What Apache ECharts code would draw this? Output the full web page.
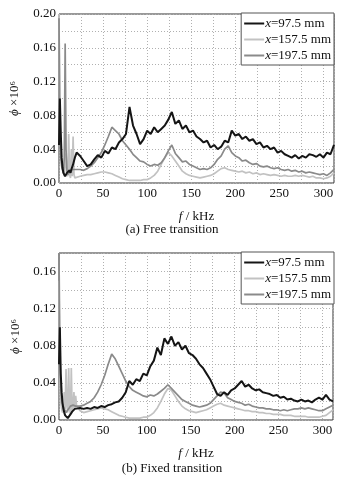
<!DOCTYPE html>
<html><head><meta charset="utf-8">
<script src="https://cdn.jsdelivr.net/npm/echarts@6/dist/echarts.min.js"></script>
<style>html,body{margin:0;padding:0;background:#fff}#c{width:359px;height:479px}</style>
</head><body><div id="c"></div>
<script>
// frequency (kHz)
var freq = [0,1,2,3,4,5,6,7,8,9,10,11,12,13,14,15,16,17,18,19,20,
24,28,32,36,40,44,48,52,56,60,64,68,72,76,80,84,88,92,96,100,
104,108,112,116,120,124,128,132,136,140,144,148,152,156,160,164,168,172,176,180,
184,188,192,196,200,204,208,212,216,220,224,228,232,236,240,244,248,252,256,260,
264,268,272,276,280,284,288,292,296,300,304,308,312];

var seriesNames = ['x=97.5 mm','x=157.5 mm','x=197.5 mm'];
var yTicksA = [0, 0.20];
var yTicksB = [0, 0.18];

// (a) Free transition
var freeX975 = [0.045,0.100,0.060,0.030,0.018,0.012,0.010,0.008,0.009,0.012,0.010,0.013,0.015,0.012,0.016,0.018,0.022,0.026,0.030,0.033,0.036,
0.032,0.026,0.020,0.022,0.028,0.033,0.030,0.038,0.035,0.042,
0.040,0.048,0.052,0.058,0.090,0.068,0.058,0.046,0.052,0.062,
0.058,0.066,0.060,0.064,0.068,0.075,0.084,0.070,0.074,0.064,
0.068,0.060,0.062,0.055,0.052,0.048,0.050,0.042,0.045,0.040,
0.043,0.050,0.048,0.062,0.056,0.058,0.052,0.055,0.050,0.052,
0.046,0.048,0.042,0.044,0.040,0.042,0.036,0.038,0.034,0.032,
0.030,0.033,0.029,0.032,0.030,0.034,0.033,0.031,0.034,0.030,
0.036,0.034,0.045];
var freeX1575 = [0.200,0.080,0.040,0.025,0.018,0.012,0.008,0.010,0.035,0.012,0.008,0.058,0.010,0.006,0.040,0.008,0.055,0.010,0.006,0.007,0.008,
0.008,0.009,0.010,0.010,0.011,0.012,0.013,0.013,0.012,0.011,
0.009,0.007,0.005,0.004,0.003,0.003,0.003,0.003,0.004,0.004,
0.006,0.009,0.014,0.022,0.030,0.036,0.032,0.026,0.020,0.014,
0.011,0.009,0.008,0.007,0.006,0.007,0.008,0.009,0.011,0.014,
0.017,0.018,0.016,0.015,0.014,0.013,0.014,0.012,0.013,0.011,
0.012,0.010,0.011,0.010,0.009,0.010,0.009,0.008,0.009,0.008,
0.008,0.009,0.008,0.009,0.008,0.007,0.008,0.006,0.006,0.005,
0.006,0.008,0.012];
var freeX1975 = [0.195,0.060,0.030,0.020,0.015,0.012,0.030,0.165,0.040,0.015,0.010,0.012,0.015,0.012,0.014,0.016,0.014,0.015,0.016,0.015,0.017,
0.016,0.015,0.017,0.020,0.024,0.030,0.036,0.045,0.055,0.066,
0.062,0.058,0.050,0.045,0.040,0.034,0.030,0.026,0.025,0.022,
0.020,0.022,0.021,0.024,0.030,0.038,0.045,0.035,0.030,0.025,
0.026,0.022,0.020,0.018,0.016,0.017,0.016,0.018,0.022,0.028,
0.032,0.040,0.044,0.036,0.032,0.030,0.026,0.027,0.024,0.022,
0.023,0.020,0.019,0.020,0.018,0.017,0.018,0.016,0.015,0.016,
0.014,0.015,0.013,0.014,0.012,0.013,0.012,0.011,0.010,0.011,
0.009,0.012,0.016];

// (b) Fixed transition
var fixedX975 = [0.060,0.100,0.050,0.030,0.018,0.012,0.008,0.005,0.004,0.003,0.002,0.003,0.004,0.006,0.008,0.009,0.010,0.011,0.012,0.012,0.013,
0.013,0.012,0.013,0.012,0.014,0.013,0.015,0.014,0.016,0.017,
0.019,0.020,0.024,0.030,0.042,0.038,0.044,0.042,0.050,0.048,
0.058,0.064,0.078,0.070,0.088,0.082,0.090,0.080,0.084,0.076,
0.080,0.072,0.070,0.066,0.060,0.056,0.050,0.044,0.036,0.028,
0.026,0.030,0.027,0.032,0.034,0.038,0.042,0.036,0.038,0.034,
0.032,0.033,0.030,0.029,0.028,0.026,0.027,0.024,0.025,0.022,
0.023,0.021,0.020,0.022,0.020,0.021,0.019,0.022,0.024,0.022,
0.027,0.022,0.020];
var fixedX1575 = [0.150,0.050,0.020,0.012,0.008,0.010,0.030,0.012,0.055,0.015,0.008,0.056,0.012,0.006,0.056,0.010,0.014,0.030,0.012,0.026,0.015,
0.010,0.008,0.009,0.010,0.011,0.012,0.013,0.012,0.011,0.009,
0.007,0.005,0.004,0.003,0.002,0.002,0.002,0.002,0.003,0.003,
0.005,0.008,0.013,0.020,0.028,0.034,0.032,0.026,0.020,0.015,
0.012,0.010,0.009,0.008,0.009,0.010,0.011,0.013,0.015,0.017,
0.018,0.016,0.015,0.014,0.013,0.012,0.011,0.010,0.010,0.009,
0.009,0.008,0.008,0.007,0.007,0.006,0.006,0.006,0.005,0.005,
0.005,0.004,0.004,0.004,0.004,0.003,0.003,0.003,0.003,0.004,
0.005,0.008,0.011];
var fixedX1975 = [0.180,0.070,0.035,0.022,0.018,0.015,0.012,0.010,0.008,0.009,0.010,0.012,0.014,0.015,0.016,0.015,0.016,0.015,0.016,0.015,0.016,
0.015,0.016,0.018,0.020,0.024,0.030,0.038,0.048,0.060,0.071,
0.066,0.058,0.050,0.042,0.036,0.032,0.030,0.028,0.026,0.025,
0.027,0.026,0.028,0.031,0.034,0.038,0.034,0.030,0.026,0.022,
0.020,0.018,0.016,0.015,0.014,0.015,0.016,0.018,0.022,0.026,
0.030,0.029,0.024,0.022,0.020,0.019,0.018,0.016,0.017,0.015,
0.014,0.013,0.013,0.012,0.012,0.011,0.011,0.010,0.011,0.010,
0.011,0.012,0.012,0.013,0.012,0.013,0.012,0.011,0.010,0.010,
0.012,0.014,0.016];

var FONT = 'Liberation Serif';
var colors = ['#151515','#c2c2c2','#8a8a8a'];

function pairs(v){ return freq.map(function(f,i){ return [f, v[i]]; }); }

function xAx(gi){
  return {gridIndex:gi, type:'value', min:0, max:312, interval:25,
    name:'{i|f} / kHz', nameLocation:'middle', nameGap:27,
    nameTextStyle:{fontFamily:FONT, fontSize:13, color:'#111', rich:{i:{fontFamily:FONT,fontSize:13,fontStyle:'italic',color:'#111'}}},
    axisLine:{show:false}, axisTick:{show:false},
    axisLabel:{fontFamily:FONT, fontSize:13, color:'#111', margin:4,
      formatter:function(v){ return v%50===0 ? String(v) : ''; }},
    splitLine:{show:true, lineStyle:{color:'#b0b0b0', type:[1,2], width:1}}};
}
function yAx(gi, ticks, gap){
  return {gridIndex:gi, type:'value', min:ticks[0], max:ticks[1], interval:0.02,
    name:'{i|ϕ} ×10⁶', nameLocation:'middle', nameGap:gap, nameRotate:90,
    nameTextStyle:{fontFamily:FONT, fontSize:13, color:'#111', rich:{i:{fontFamily:FONT,fontSize:13,fontStyle:'italic',color:'#111'}}},
    axisLine:{show:false}, axisTick:{show:false},
    axisLabel:{fontFamily:FONT, fontSize:13, color:'#111', margin:3,
      formatter:function(v){ var k=Math.round(v*100); return k%4===0 ? v.toFixed(2) : ''; }},
    splitLine:{show:true, lineStyle:{color:'#b0b0b0', type:[1,2], width:1}}};
}
function legendAt(top){
  return {show:true, orient:'vertical', right:25, top:top, data:seriesNames,
    backgroundColor:'#fff', borderColor:'#555', borderWidth:1, padding:[4,3,3,3],
    itemWidth:20, itemHeight:2, itemGap:3, icon:'rect',
    formatter:function(n){ return '{i|x}' + n.slice(1); },
    textStyle:{fontFamily:FONT, fontSize:13, color:'#111', padding:[0,0,0,-4],
      rich:{i:{fontFamily:FONT,fontSize:13,fontStyle:'italic',color:'#111'}}}};
}
var data = [[freeX975, freeX1575, freeX1975],[fixedX975, fixedX1575, fixedX1975]];
var series = [];
for (var g=0; g<2; g++){
  [1,2,0].forEach(function(k){
    series.push({name:seriesNames[k], type:'line', xAxisIndex:g, yAxisIndex:g,
      data:pairs(data[g][k]), showSymbol:false, symbol:'none',
      lineStyle:{color:colors[k], width:k===0?2:1.7}, itemStyle:{color:colors[k]},
      z: k===0?5:(k===2?4:3)});
  });
}
var chart = echarts.init(document.getElementById('c'), null, {renderer:'canvas'});
chart.setOption({
  animation:false, backgroundColor:'#fff',
  grid:[{left:58, top:14, width:276, height:169, show:true, borderColor:'#333', borderWidth:1, backgroundColor:'transparent'},
        {left:59, top:253, width:274, height:167, show:true, borderColor:'#333', borderWidth:1, backgroundColor:'transparent'}],
  xAxis:[xAx(0), xAx(1)],
  yAxis:[yAx(0, yTicksA, 38), yAx(1, yTicksB, 36)],
  legend:[legendAt(13), legendAt(252)],
  series:series,
  graphic:[
    {type:'text', x:172, y:230, style:{text:'(a) Free transition', font:'13px "Liberation Serif"', fill:'#111', textAlign:'center', textVerticalAlign:'middle'}},
    {type:'text', x:172, y:469, style:{text:'(b) Fixed transition', font:'13px "Liberation Serif"', fill:'#111', textAlign:'center', textVerticalAlign:'middle'}}
  ]
});
</script>
</body></html>
